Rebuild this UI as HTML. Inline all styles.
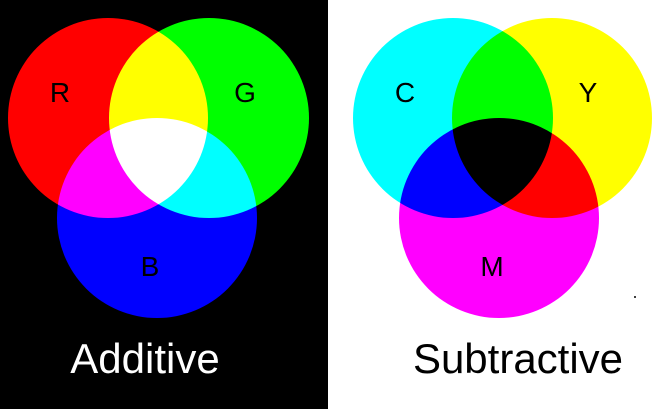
<!DOCTYPE html>
<html><head><meta charset="utf-8">
<style>
html,body{margin:0;padding:0;background:#fff;}
svg{display:block;}
text{font-family:"Liberation Sans","DejaVu Sans",sans-serif;}
</style></head>
<body>
<svg id="c" width="658" height="409" viewBox="0 0 658 409">
  <rect x="0" y="0" width="328" height="409" fill="#000"/>
  <rect x="328" y="0" width="330" height="409" fill="#fff"/>
  <g id="add" style="isolation:isolate"></g>
  <g id="sub" style="isolation:isolate"></g>
  <circle cx="635" cy="297" r="1" fill="#000"/>
  <text x="145" y="373" font-size="42" fill="#fff" text-anchor="middle">Additive</text>
  <text x="518" y="373" font-size="42" fill="#000" text-anchor="middle">Subtractive</text>
</svg>
<script>
const addLabels = ["R","G","B"];
const addColors = ["#ff0000","#00ff00","#0000ff"];
const addCx = [108,209,157];
const addCy = [118,118,218];
const subLabels = ["C","Y","M"];
const subColors = ["#00ffff","#ffff00","#ff00ff"];
const subCx = [453,552,499];
const subCy = [118,118,218];
const radius = 100;
const labelPos = [[-48,-26],[36,-26],[-7,48]];
const NS = "http://www.w3.org/2000/svg";
function draw(gid, labels, colors, cx, cy, blend, parent){
  const g = document.getElementById(gid);
  labels.forEach((l,i)=>{
    const c = document.createElementNS(NS,"circle");
    c.setAttribute("cx",cx[i]); c.setAttribute("cy",cy[i]); c.setAttribute("r",radius);
    c.setAttribute("fill",colors[i]);
    c.style.mixBlendMode = blend;
    
    
    g.appendChild(c);
  });
  labels.forEach((l,i)=>{
    const t = document.createElementNS(NS,"text");
    t.setAttribute("x",cx[i]+labelPos[i][0]); t.setAttribute("y",cy[i]+labelPos[i][1]+10);
    t.setAttribute("font-size","28"); t.setAttribute("fill","#000");
    t.setAttribute("text-anchor","middle");
    t.textContent = l;
    
    
    parent.appendChild(t);
  });
}
const svg = document.getElementById("c");
draw("add", addLabels, addColors, addCx, addCy, "screen", svg);
draw("sub", subLabels, subColors, subCx, subCy, "multiply", svg);
</script>
</body></html>
